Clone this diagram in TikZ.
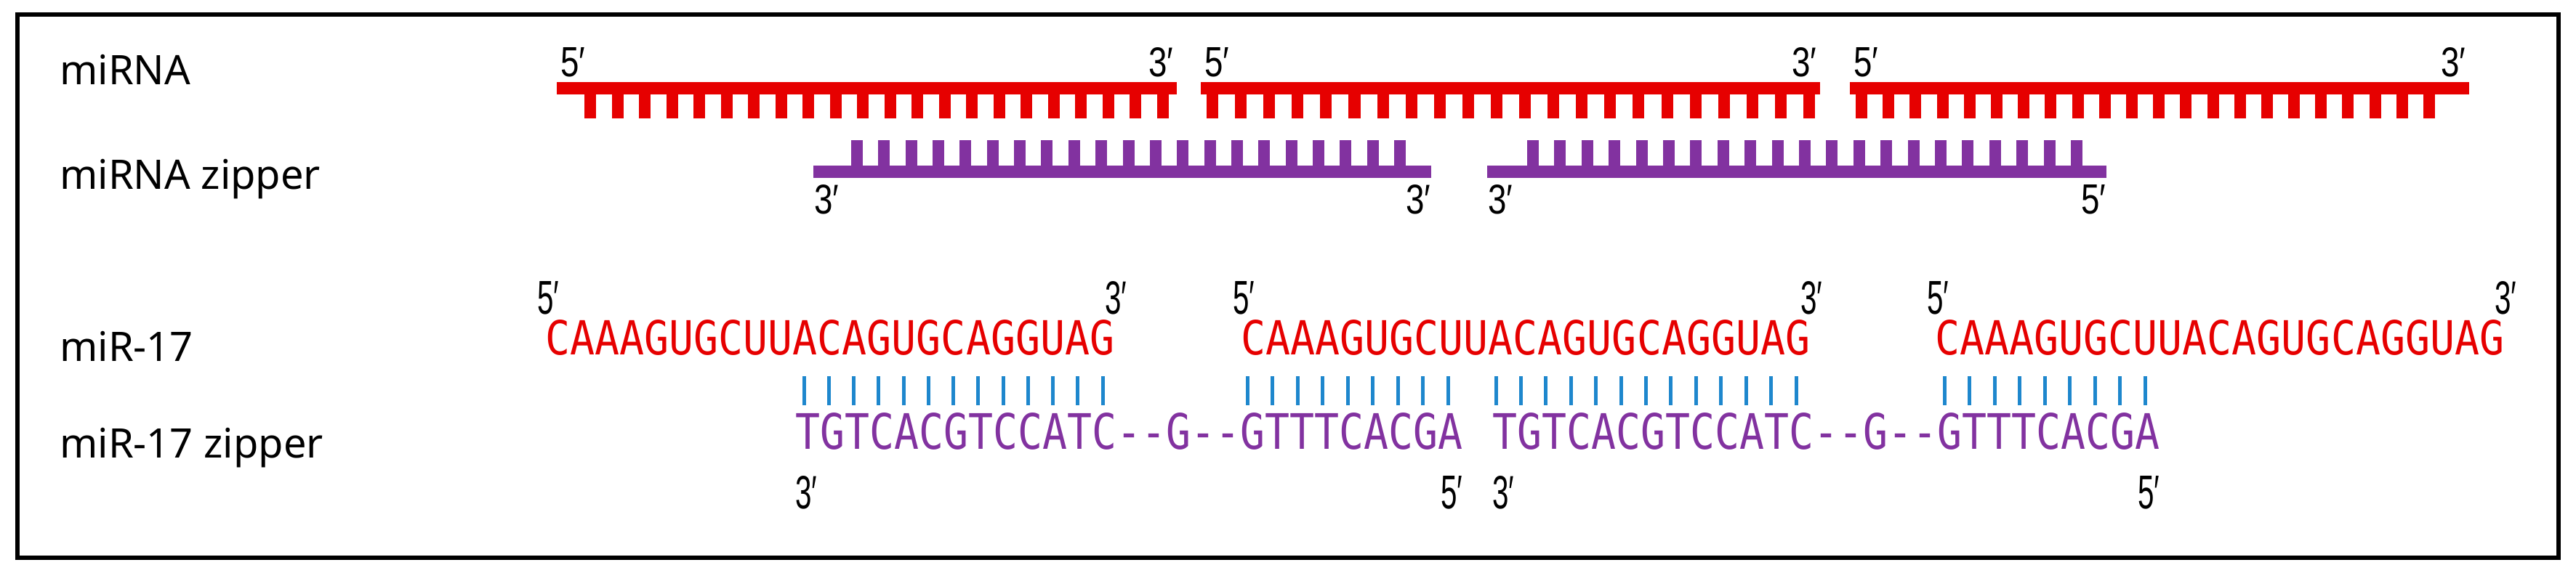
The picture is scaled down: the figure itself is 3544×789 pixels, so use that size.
\documentclass[tikz,border=0pt]{standalone}
\usepackage{fontspec}
\setmainfont{Noto Sans}
\newfontfamily\seqfont{DejaVu Sans Mono}
\newfontfamily\endfont{Liberation Sans}
\definecolor{rnared}{RGB}{230,0,0}
\definecolor{zippurple}{RGB}{130,50,160}
\definecolor{tickblue}{RGB}{30,135,205}
\newcommand{\primelab}[1]{\resizebox{34pt}{40pt}{\endfont #1′}}
\begin{document}
\begin{tikzpicture}[x=1pt,y=-1pt,
  lab/.style={anchor=base west,inner sep=0pt,font=\fontsize{56}{60}\selectfont},
  endl/.style={inner sep=0pt},
  seq/.style={anchor=base west,inner sep=0pt}]
\useasboundingbox (0,0) rectangle (3544,789);
\draw[line width=6pt] (24,20) rectangle (3520,768);
% row labels
\node[lab] (l1) at (82,117) {miRNA};
\node[lab] (l2) at (82,260) {miRNA zipper};
\node[lab] (l3) at (82,497) {miR-17};
\node[lab] (l4) at (82,630) {miR-17 zipper};
% red miRNA strands
\foreach \a/\b/\f/\l [count=\i] in {766/1619/812/1600,1652/2504/1668/2489,2545/3397/2561/3342}{
  \fill[rnared] (\a,113) rectangle (\b,130);
  \foreach \k in {0,...,21}{
    \pgfmathsetmacro\xx{\f+(\l-\f)/21*\k}
    \fill[rnared] (\xx-8,130) rectangle (\xx+8,163);
  }
  \node[endl,anchor=south] (r5\i) at (\a+22,106) {\primelab{5}};
  \node[endl,anchor=south] (r3\i) at (\b-22,106) {\primelab{3}};
}
% purple zipper strands
\foreach \a/\b/\f/\l/\rl [count=\i] in {1119/1969/1179/1926/3,2046/2898/2109/2857/5}{
  \fill[zippurple] (\a,228) rectangle (\b,245);
  \foreach \k in {0,...,20}{
    \pgfmathsetmacro\xx{\f+(\l-\f)/20*\k}
    \fill[zippurple] (\xx-8,193) rectangle (\xx+8,228);
  }
  \node[endl,anchor=north] (p3\i) at (\a+18,254) {\primelab{3}};
  \node[endl,anchor=north] (pr\i) at (\b-18,254) {\primelab{\rl}};
}
% miR-17 sequences
\foreach \a [count=\i] in {750,1707,2662}{
  \node[seq,text=rnared] (s\i) at (\a,488) {\resizebox{783pt}{48pt}{\seqfont CAAAGUGCUUACAGUGCAGGUAG}};
  \node[endl,anchor=south] (s5\i) at (\a+4,433) {\resizebox{30pt}{45pt}{\endfont 5′}};
  \node[endl,anchor=south] (s3\i) at (\a+785,433) {\resizebox{30pt}{45pt}{\endfont 3′}};
}
% zipper sequences
\foreach \a/\rl [count=\i] in {1094/5,2053/5}{
  \node[seq,text=zippurple] (z\i) at (\a,618) {\resizebox{918pt}{50pt}{\seqfont TGTCACGTCCATC-{}-G-{}-GTTTCACGA}};
  \node[endl,anchor=north] (z3\i) at (\a+15,655) {\resizebox{30pt}{45pt}{\endfont 3′}};
  \node[endl,anchor=north] (z5\i) at (\a+903,655) {\resizebox{30pt}{45pt}{\endfont \rl′}};
}
% base-pair ticks
\foreach \f/\l/\n in {1106/1517/12,1716/1992/8,2058/2471/12,2675/2951/8}{
  \foreach \k in {0,...,\n}{
    \pgfmathsetmacro\xx{\f+(\l-\f)/\n*\k}
    \draw[tickblue,line width=5pt] (\xx,518) -- (\xx,558);
  }
}
\end{tikzpicture}
\end{document}
